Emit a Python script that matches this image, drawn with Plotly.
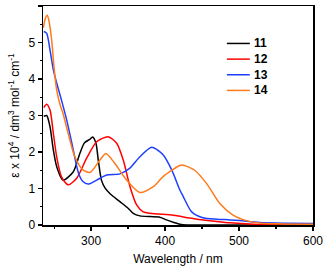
import plotly.graph_objects as go

# ---- data ----
x11 = [236, 240, 244.5, 249, 253.5, 262, 276, 285, 291, 298.5, 302, 306.6, 309.7, 314, 319, 326, 339, 350, 357, 366, 380, 392, 402, 412, 420, 430, 460, 600]
y11 = [2.98, 3.0, 2.69, 2.05, 1.6, 1.23, 1.46, 1.97, 2.25, 2.35, 2.41, 2.24, 1.78, 1.23, 1.01, 0.85, 0.64, 0.46, 0.32, 0.25, 0.23, 0.22, 0.14, 0.07, 0.02, 0.0, 0.0, 0.0]

x12 = [236, 240, 244.5, 249, 253.5, 260, 269, 280.5, 294, 307.5, 323, 334.6, 343.5, 352.6, 361.6, 370.5, 380, 411, 422, 443, 465, 488, 520, 560, 600]
y12 = [3.22, 3.31, 3.15, 2.51, 1.87, 1.32, 1.1, 1.28, 1.83, 2.28, 2.42, 2.24, 1.78, 1.05, 0.55, 0.36, 0.32, 0.27, 0.23, 0.16, 0.11, 0.06, 0.02, 0.0, 0.0]

x13 = [236, 240, 244.5, 249, 253.5, 260, 267, 274, 283, 289, 296, 307.5, 321, 339, 352, 366, 382, 397.6, 409, 420, 424.6, 436, 451, 470, 488, 501, 528, 560, 600]
y13 = [5.3, 5.25, 4.79, 4.25, 3.89, 3.42, 2.88, 2.24, 1.42, 1.19, 1.12, 1.23, 1.37, 1.40, 1.55, 1.87, 2.13, 1.92, 1.51, 0.96, 0.78, 0.36, 0.2, 0.16, 0.14, 0.12, 0.07, 0.05, 0.04]

x14 = [235.5, 238, 240.8, 243, 246.7, 250, 253.5, 258, 262, 269, 278, 289, 298.5, 312, 320, 332, 348, 366, 384, 397, 420, 425, 440, 456, 474, 492, 510, 530, 560, 600]
y14 = [5.4, 5.65, 5.75, 5.6, 5.07, 4.3, 3.7, 3.3, 3.06, 2.51, 1.87, 1.51, 1.44, 1.78, 1.96, 1.69, 1.23, 0.89, 1.05, 1.32, 1.63, 1.64, 1.5, 1.14, 0.59, 0.27, 0.12, 0.05, 0.03, 0.02]

names = ["11", "12", "13", "14"]
colors = ["#000000", "#ff0000", "#1f3fff", "#ff7a1a"]
xs = [x11, x12, x13, x14]
ys = [y11, y12, y13, y14]

x_ticks = [300, 400, 500, 600]
y_ticks = [0, 1, 2, 3, 4, 5, 6]

FONT = "Liberation Sans, Arial, sans-serif"

fig = go.Figure()
for n, c, xv, yv in zip(names, colors, xs, ys):
    fig.add_trace(go.Scatter(x=xv, y=yv, mode="lines", name=n,
                             line=dict(color=c, width=1.5, shape="spline", smoothing=0.7),
                             showlegend=False, hoverinfo="skip"))

# manual legend (paper coordinates)
leg_y0 = 0.829
leg_dy = 0.0715
for i, (n, c) in enumerate(zip(names, colors)):
    yy = leg_y0 - i * leg_dy
    fig.add_shape(type="line", xref="paper", yref="paper",
                  x0=0.681, x1=0.766, y0=yy, y1=yy,
                  line=dict(color=c, width=1.5))
    fig.add_annotation(xref="paper", yref="paper", x=0.775, y=yy,
                       text="<b>%s</b>" % n, showarrow=False,
                       xanchor="left", yanchor="middle",
                       font=dict(family=FONT, size=12, color="#000"))

axis_common = dict(showline=True, linecolor="#000", linewidth=1.5, mirror=True,
                   ticks="outside", ticklen=4, tickwidth=1.2, tickcolor="#000",
                   showgrid=False, zeroline=False, automargin=False,
                   tickfont=dict(family=FONT, size=12, color="#000"))

fig.update_xaxes(range=[235, 600], tickvals=x_ticks,
                 minor=dict(tickvals=[250, 350, 450, 550], ticks="outside", ticklen=2, tickcolor="#000"),
                 title=dict(text="Wavelength / nm", font=dict(family=FONT, size=12, color="#000"), standoff=9),
                 **axis_common)
fig.update_yaxes(range=[0, 6], tickvals=y_ticks,
                 minor=dict(dtick=0.5, ticks="outside", ticklen=2, tickcolor="#000"),
                 title=dict(text="ε x 10<sup>4</sup> / dm<sup>3</sup> mol<sup>-1</sup> cm<sup>-1</sup>",
                            font=dict(family=FONT, size=12, color="#000"), standoff=6),
                 **axis_common)

fig.update_layout(width=324, height=266,
                  margin=dict(l=43, r=11, t=6, b=41),
                  paper_bgcolor="white", plot_bgcolor="white",
                  hovermode=False,
                  font=dict(family=FONT, size=12, color="#000"))

fig.write_html("out.html", config={"displayModeBar": False, "staticPlot": True},
               post_script="document.body.style.margin='0';document.body.style.overflow='hidden';")
